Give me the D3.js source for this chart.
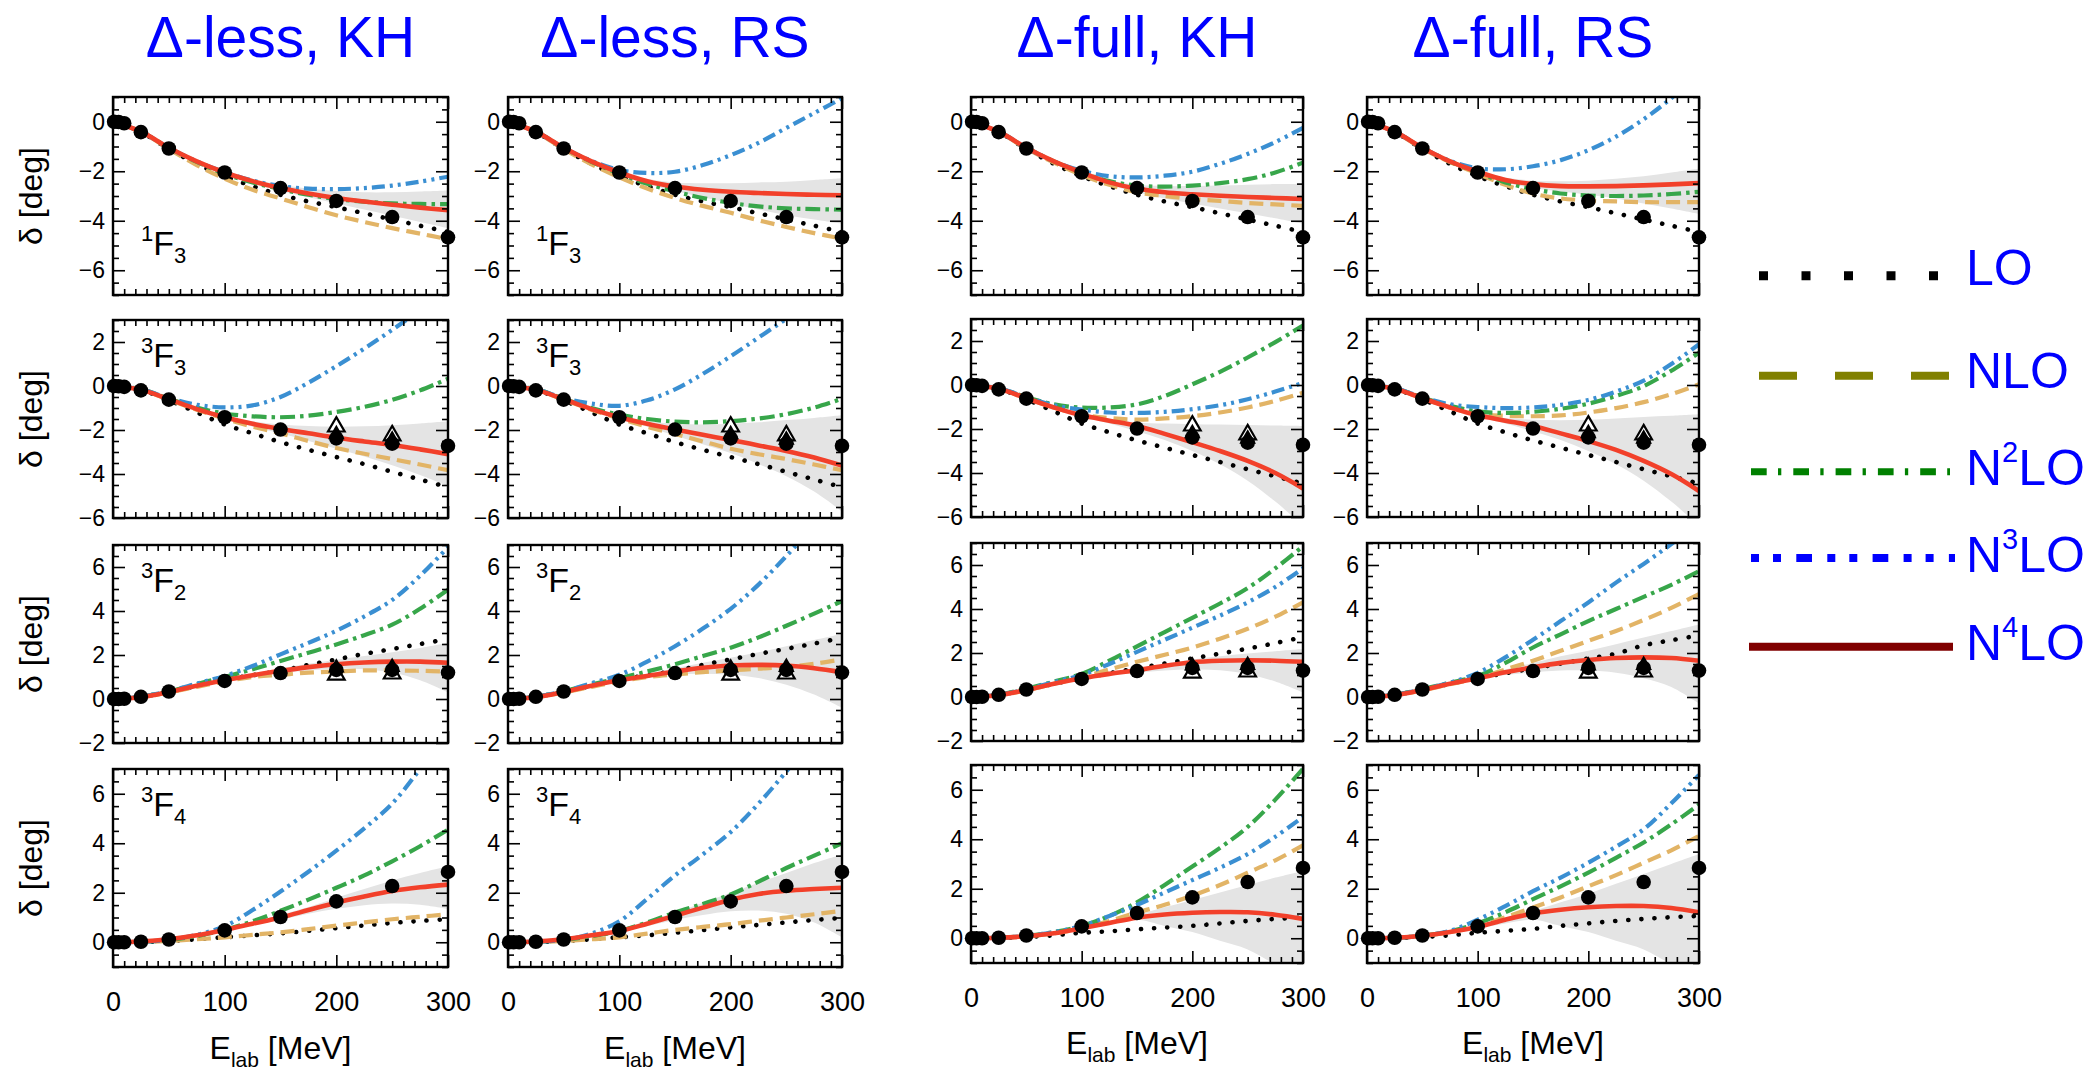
<!DOCTYPE html>
<html><head><meta charset="utf-8">
<script src="https://cdn.jsdelivr.net/npm/d3@7"></script>
<style>
body{margin:0;background:#fff}
text{font-family:"Liberation Sans",Arial,Helvetica,sans-serif}
</style>
</head><body>
<svg id="c" width="2094" height="1074"></svg>
<script>
// ---------------- DATA ----------------
const energies = [0,25,50,75,100,125,150,175,200,225,250,275,300];
const titles = ["Δ-less, KH","Δ-less, RS","Δ-full, KH","Δ-full, RS"];
const waveSup = ["1","3","3","3"];
const waveSub = ["3","3","2","4"];
const yDomains = [[-7,1],[-6,3],[-2,7],[-1,7]];
const yTickVals = [[0,-2,-4,-6],[2,0,-2,-4,-6],[6,4,2,0,-2],[6,4,2,0]];
const xTickVals = [0,100,200,300];
const orders = ["LO","NLO","N2LO","N3LO","N4LO"];
const orderSup = ["","","2","3","4"];

// PWA points
const pwaE = [1,5,10,25,50,100,150,200,250,300];
const pwa_1F3 = [0,-0.01,-0.06,-0.42,-1.08,-2.05,-2.68,-3.2,-3.85,-4.67];
const pwa_3F3 = [0,-0.01,-0.04,-0.2,-0.62,-1.42,-1.98,-2.38,-2.62,-2.72];
const pwa_3F2 = [0,0,0.01,0.1,0.34,0.82,1.18,1.32,1.32,1.2];
const pwa_3F4 = [0,0,0,0.02,0.11,0.48,1.02,1.65,2.27,2.84];
const triE = [200,250];
const openTri_3F3 = [-1.85,-2.25];
const filledTri_3F3 = [-2.2,-2.45];
const openTri_3F2 = [1.1,1.15];
const filledTri_3F2 = [1.42,1.45];

// 1F3 (columns: Δ-less KH, Δ-less RS, Δ-full KH, Δ-full RS)
const LO_1F3 = [
 [0,-0.42,-1.1,-1.7,-2.2,-2.6,-2.95,-3.22,-3.45,-3.7,-3.95,-4.2,-4.45],
 [0,-0.42,-1.1,-1.7,-2.2,-2.6,-2.95,-3.22,-3.45,-3.7,-3.95,-4.2,-4.45],
 [0,-0.42,-1.1,-1.7,-2.2,-2.6,-2.95,-3.22,-3.45,-3.7,-3.95,-4.2,-4.45],
 [0,-0.42,-1.1,-1.7,-2.2,-2.6,-2.95,-3.22,-3.45,-3.7,-3.95,-4.2,-4.45]];
const NLO_1F3 = [
 [0,-0.42,-1.1,-1.75,-2.3,-2.75,-3.1,-3.45,-3.78,-4.05,-4.3,-4.52,-4.75],
 [0,-0.42,-1.1,-1.72,-2.25,-2.7,-3.08,-3.4,-3.68,-3.98,-4.25,-4.5,-4.72],
 [0,-0.42,-1.08,-1.65,-2.15,-2.55,-2.85,-3.0,-3.12,-3.2,-3.28,-3.34,-3.4],
 [0,-0.42,-1.08,-1.63,-2.1,-2.55,-2.9,-3.1,-3.18,-3.22,-3.25,-3.25,-3.25]];
const N2LO_1F3 = [
 [0,-0.4,-1.05,-1.62,-2.1,-2.45,-2.72,-2.95,-3.12,-3.23,-3.3,-3.32,-3.33],
 [0,-0.4,-1.05,-1.62,-2.1,-2.5,-2.82,-3.08,-3.28,-3.42,-3.5,-3.53,-3.55],
 [0,-0.4,-1.05,-1.6,-2.05,-2.4,-2.58,-2.62,-2.58,-2.48,-2.32,-2.05,-1.65],
 [0,-0.4,-1.05,-1.6,-2.05,-2.45,-2.72,-2.9,-2.98,-3.0,-2.98,-2.92,-2.83]];
const N3LO_1F3 = [
 [0,-0.4,-1.05,-1.6,-2.03,-2.38,-2.6,-2.7,-2.72,-2.68,-2.58,-2.42,-2.22],
 [0,-0.4,-1.05,-1.58,-1.95,-2.07,-2.02,-1.75,-1.35,-0.85,-0.25,0.35,0.95],
 [0,-0.4,-1.05,-1.6,-1.98,-2.2,-2.25,-2.18,-2.02,-1.7,-1.3,-0.82,-0.25],
 [0,-0.4,-1.05,-1.58,-1.88,-1.92,-1.8,-1.55,-1.15,-0.6,0.1,0.95,1.9]];
const N4LO_1F3 = [
 [0,-0.4,-1.05,-1.6,-2.05,-2.4,-2.68,-2.9,-3.08,-3.22,-3.35,-3.47,-3.57],
 [0,-0.4,-1.05,-1.6,-2.05,-2.4,-2.62,-2.75,-2.83,-2.88,-2.92,-2.95,-2.97],
 [0,-0.4,-1.05,-1.6,-2.05,-2.45,-2.7,-2.85,-2.93,-2.99,-3.04,-3.08,-3.12],
 [0,-0.4,-1.05,-1.6,-2.02,-2.35,-2.52,-2.6,-2.61,-2.6,-2.57,-2.53,-2.48]];
const bandHi_1F3 = [
 [0,-0.4,-1.04,-1.58,-2.0,-2.3,-2.55,-2.7,-2.8,-2.85,-2.85,-2.82,-2.78],
 [0,-0.4,-1.04,-1.58,-2.0,-2.3,-2.45,-2.48,-2.48,-2.45,-2.42,-2.35,-2.28],
 [0,-0.4,-1.04,-1.58,-2.0,-2.35,-2.55,-2.6,-2.6,-2.58,-2.55,-2.52,-2.5],
 [0,-0.4,-1.04,-1.57,-1.98,-2.25,-2.38,-2.4,-2.38,-2.3,-2.2,-2.05,-1.9]];
const bandLo_1F3 = [
 [0,-0.4,-1.06,-1.62,-2.1,-2.5,-2.8,-3.05,-3.3,-3.55,-3.8,-4.05,-4.3],
 [0,-0.4,-1.06,-1.62,-2.1,-2.5,-2.8,-3.05,-3.3,-3.55,-3.78,-3.95,-4.12],
 [0,-0.4,-1.06,-1.62,-2.1,-2.55,-2.85,-3.1,-3.3,-3.5,-3.7,-3.9,-4.12],
 [0,-0.4,-1.06,-1.62,-2.08,-2.45,-2.68,-2.82,-2.95,-3.1,-3.3,-3.5,-3.72]];

// 3F3
const LO_3F3 = [
 [0,-0.18,-0.65,-1.2,-1.75,-2.15,-2.55,-2.9,-3.23,-3.55,-3.9,-4.25,-4.6],
 [0,-0.18,-0.65,-1.2,-1.75,-2.15,-2.55,-2.9,-3.23,-3.55,-3.9,-4.25,-4.6],
 [0,-0.18,-0.65,-1.2,-1.75,-2.15,-2.52,-2.85,-3.18,-3.5,-3.83,-4.15,-4.48],
 [0,-0.18,-0.65,-1.2,-1.75,-2.15,-2.52,-2.85,-3.18,-3.5,-3.83,-4.15,-4.48]];
const NLO_3F3 = [
 [0,-0.17,-0.62,-1.08,-1.48,-1.85,-2.15,-2.5,-2.82,-3.08,-3.32,-3.57,-3.83],
 [0,-0.17,-0.62,-1.08,-1.48,-1.85,-2.18,-2.52,-2.85,-3.1,-3.32,-3.57,-3.83],
 [0,-0.17,-0.6,-1.02,-1.35,-1.5,-1.57,-1.52,-1.42,-1.25,-1.02,-0.72,-0.35],
 [0,-0.17,-0.6,-1.02,-1.32,-1.4,-1.42,-1.38,-1.25,-1.05,-0.78,-0.42,0.03]];
const N2LO_3F3 = [
 [0,-0.15,-0.58,-0.98,-1.25,-1.38,-1.42,-1.35,-1.18,-0.95,-0.63,-0.2,0.33],
 [0,-0.15,-0.58,-1.0,-1.3,-1.5,-1.62,-1.65,-1.6,-1.48,-1.28,-0.98,-0.58],
 [0,-0.15,-0.55,-0.88,-1.03,-1.02,-0.88,-0.5,0.03,0.6,1.25,1.95,2.7],
 [0,-0.15,-0.57,-0.95,-1.2,-1.27,-1.22,-1.08,-0.85,-0.5,-0.05,0.65,1.47]];
const N3LO_3F3 = [
 [0,-0.15,-0.55,-0.85,-0.97,-0.88,-0.5,0.15,0.9,1.7,2.55,3.45,4.4],
 [0,-0.15,-0.55,-0.8,-0.9,-0.65,-0.15,0.55,1.35,2.2,3.05,3.9,4.8],
 [0,-0.15,-0.55,-0.92,-1.12,-1.25,-1.27,-1.22,-1.1,-0.92,-0.65,-0.3,0.1],
 [0,-0.15,-0.55,-0.88,-1.0,-1.05,-1.02,-0.9,-0.68,-0.3,0.2,0.95,1.85]];
const N4LO_3F3 = [
 [0,-0.17,-0.6,-1.05,-1.42,-1.72,-1.95,-2.15,-2.35,-2.52,-2.68,-2.88,-3.1],
 [0,-0.17,-0.6,-1.05,-1.42,-1.72,-1.98,-2.22,-2.45,-2.7,-2.95,-3.25,-3.62],
 [0,-0.17,-0.6,-1.02,-1.38,-1.62,-1.86,-2.22,-2.6,-3.0,-3.45,-4.0,-4.7],
 [0,-0.17,-0.6,-1.02,-1.38,-1.62,-1.86,-2.2,-2.55,-2.95,-3.45,-4.05,-4.82]];
const bandHi_3F3 = [
 [0,-0.16,-0.58,-1.0,-1.36,-1.6,-1.75,-1.82,-1.85,-1.83,-1.78,-1.7,-1.6],
 [0,-0.16,-0.58,-1.0,-1.36,-1.6,-1.72,-1.75,-1.72,-1.65,-1.55,-1.45,-1.33],
 [0,-0.16,-0.58,-1.0,-1.33,-1.55,-1.7,-1.75,-1.78,-1.8,-1.82,-1.84,-1.86],
 [0,-0.16,-0.58,-1.0,-1.33,-1.5,-1.58,-1.6,-1.58,-1.52,-1.45,-1.4,-1.33]];
const bandLo_3F3 = [
 [0,-0.18,-0.62,-1.08,-1.46,-1.85,-2.15,-2.5,-2.85,-3.2,-3.6,-4.05,-4.55],
 [0,-0.18,-0.62,-1.08,-1.46,-1.85,-2.25,-2.65,-3.05,-3.55,-4.1,-4.8,-5.7],
 [0,-0.18,-0.62,-1.05,-1.42,-1.75,-2.1,-2.5,-3.0,-3.6,-4.35,-5.3,-6.4],
 [0,-0.18,-0.62,-1.05,-1.42,-1.75,-2.1,-2.5,-3.0,-3.6,-4.35,-5.3,-6.4]];

// 3F2
const LO_3F2 = [
 [0,0.1,0.33,0.6,0.88,1.08,1.28,1.55,1.8,2.05,2.27,2.5,2.72],
 [0,0.1,0.33,0.6,0.88,1.08,1.28,1.55,1.8,2.05,2.28,2.52,2.78],
 [0,0.1,0.33,0.6,0.85,1.08,1.3,1.52,1.75,1.97,2.2,2.45,2.72],
 [0,0.1,0.33,0.6,0.85,1.08,1.3,1.52,1.75,1.97,2.35,2.58,2.8]];
const NLO_3F2 = [
 [0,0.08,0.3,0.55,0.8,1.0,1.1,1.2,1.25,1.3,1.3,1.28,1.25],
 [0,0.08,0.3,0.55,0.8,1.0,1.12,1.22,1.3,1.38,1.45,1.6,1.8],
 [0,0.08,0.3,0.6,0.9,1.25,1.6,1.92,2.25,2.65,3.1,3.65,4.3],
 [0,0.08,0.3,0.58,0.85,1.25,1.65,2.1,2.55,3.0,3.5,4.05,4.68]];
const N2LO_3F2 = [
 [0,0.1,0.35,0.68,1.0,1.35,1.73,2.1,2.48,2.9,3.38,4.1,4.97],
 [0,0.1,0.35,0.66,0.95,1.25,1.58,1.95,2.33,2.8,3.33,3.88,4.45],
 [0,0.1,0.38,0.7,1.05,1.65,2.3,2.95,3.6,4.25,4.95,5.85,6.85],
 [0,0.1,0.36,0.65,0.95,1.55,2.25,2.85,3.45,4.0,4.55,5.1,5.72]];
const N3LO_3F2 = [
 [0,0.1,0.35,0.7,1.05,1.5,2.03,2.55,3.1,3.75,4.5,5.6,6.9],
 [0,0.1,0.35,0.72,1.1,1.7,2.4,3.2,4.1,5.2,6.5,7.9,9.4],
 [0,0.1,0.35,0.68,1.0,1.5,2.05,2.6,3.15,3.7,4.3,5.0,5.85],
 [0,0.1,0.35,0.65,1.1,1.8,2.6,3.45,4.3,5.2,6.05,6.95,7.9]];
const N4LO_3F2 = [
 [0,0.08,0.32,0.6,0.85,1.08,1.28,1.45,1.58,1.66,1.7,1.7,1.65],
 [0,0.08,0.32,0.6,0.85,1.05,1.25,1.42,1.52,1.55,1.52,1.4,1.22],
 [0,0.08,0.32,0.6,0.85,1.05,1.22,1.42,1.58,1.65,1.67,1.65,1.6],
 [0,0.08,0.32,0.6,0.85,1.12,1.35,1.55,1.68,1.77,1.8,1.77,1.65]];
const bandHi_3F2 = [
 [0,0.08,0.33,0.62,0.9,1.15,1.38,1.6,1.78,1.95,2.12,2.32,2.56],
 [0,0.08,0.33,0.62,0.9,1.15,1.4,1.65,1.88,2.12,2.4,2.68,2.95],
 [0,0.08,0.33,0.62,0.9,1.12,1.32,1.52,1.7,1.85,1.98,2.08,2.18],
 [0,0.08,0.33,0.62,0.92,1.25,1.55,1.85,2.1,2.4,2.7,3.0,3.3]];
const bandLo_3F2 = [
 [0,0.08,0.31,0.58,0.8,1.0,1.18,1.3,1.38,1.35,1.2,0.85,0.3],
 [0,0.08,0.31,0.58,0.8,0.98,1.1,1.15,1.1,0.95,0.65,0.2,-0.4],
 [0,0.08,0.31,0.58,0.8,0.98,1.1,1.2,1.25,1.22,1.05,0.7,0.2],
 [0,0.08,0.31,0.58,0.8,1.0,1.12,1.2,1.2,1.1,0.85,0.45,-0.3]];

// 3F4
const LO_3F4 = [
 [0,0.01,0.05,0.12,0.2,0.28,0.36,0.46,0.57,0.68,0.78,0.86,0.93],
 [0,0.01,0.05,0.12,0.2,0.28,0.38,0.49,0.6,0.7,0.8,0.9,0.98],
 [0,0.01,0.05,0.12,0.22,0.28,0.36,0.43,0.5,0.6,0.7,0.78,0.84],
 [0,0.01,0.05,0.12,0.22,0.3,0.38,0.5,0.6,0.7,0.78,0.85,0.9]];
const NLO_3F4 = [
 [0,0.01,0.05,0.12,0.2,0.3,0.4,0.53,0.67,0.8,0.93,1.03,1.13],
 [0,0.01,0.05,0.12,0.2,0.35,0.5,0.62,0.73,0.87,1.0,1.13,1.27],
 [0,0.02,0.08,0.2,0.4,0.7,1.04,1.35,1.72,2.15,2.65,3.15,3.75],
 [0,0.02,0.1,0.25,0.5,0.85,1.24,1.65,2.1,2.55,3.05,3.55,4.13]];
const N2LO_3F4 = [
 [0,0.02,0.1,0.25,0.5,0.85,1.27,1.72,2.2,2.7,3.27,3.88,4.55],
 [0,0.02,0.1,0.25,0.45,0.8,1.2,1.55,1.93,2.45,3.0,3.5,4.0],
 [0,0.02,0.1,0.25,0.5,0.9,1.45,2.15,2.9,3.65,4.5,5.6,6.85],
 [0,0.02,0.1,0.28,0.6,1.05,1.58,2.1,2.65,3.25,3.87,4.6,5.4]];
const N3LO_3F4 = [
 [0,0.02,0.1,0.3,0.65,1.3,2.05,2.85,3.7,4.6,5.6,7.0,8.5],
 [0,0.02,0.1,0.35,0.85,1.75,2.7,3.55,4.45,5.6,6.9,8.3,9.8],
 [0,0.02,0.1,0.25,0.5,0.9,1.35,1.85,2.35,2.85,3.4,4.1,4.9],
 [0,0.02,0.1,0.3,0.75,1.3,1.9,2.45,3.05,3.7,4.4,5.45,6.6]];
const N4LO_3F4 = [
 [0,0.03,0.12,0.28,0.5,0.75,1.0,1.3,1.6,1.85,2.07,2.22,2.33],
 [0,0.03,0.12,0.28,0.45,0.75,1.07,1.4,1.72,1.95,2.08,2.15,2.2],
 [0,0.02,0.08,0.2,0.4,0.62,0.83,0.96,1.03,1.06,1.05,0.95,0.78],
 [0,0.02,0.1,0.25,0.45,0.75,1.0,1.15,1.25,1.3,1.3,1.22,1.05]];
const bandHi_3F4 = [
 [0,0.03,0.13,0.3,0.55,0.82,1.1,1.42,1.8,2.15,2.5,2.8,3.07],
 [0,0.03,0.13,0.3,0.55,0.85,1.2,1.6,2.0,2.4,2.8,3.2,3.55],
 [0,0.02,0.09,0.22,0.45,0.7,0.95,1.25,1.55,1.85,2.15,2.45,2.72],
 [0,0.02,0.11,0.27,0.5,0.8,1.1,1.45,1.8,2.2,2.6,3.0,3.4]];
const bandLo_3F4 = [
 [0,0.03,0.11,0.26,0.45,0.68,0.9,1.15,1.35,1.5,1.57,1.52,1.35],
 [0,0.03,0.11,0.26,0.4,0.65,0.9,1.1,1.25,1.28,1.15,0.8,0.2],
 [0,0.02,0.07,0.18,0.35,0.55,0.75,0.5,0.25,-0.1,-0.45,-1.05,-1.6],
 [0,0.02,0.09,0.23,0.4,0.6,0.75,0.5,0.25,-0.1,-0.45,-1.05,-1.6]];

// ---------------- BUILD ----------------
const curves = {
  LO:   [LO_1F3, LO_3F3, LO_3F2, LO_3F4],
  NLO:  [NLO_1F3, NLO_3F3, NLO_3F2, NLO_3F4],
  N2LO: [N2LO_1F3, N2LO_3F3, N2LO_3F2, N2LO_3F4],
  N3LO: [N3LO_1F3, N3LO_3F3, N3LO_3F2, N3LO_3F4],
  N4LO: [N4LO_1F3, N4LO_3F3, N4LO_3F2, N4LO_3F4]
};
const bandHi = [bandHi_1F3, bandHi_3F3, bandHi_3F2, bandHi_3F4];
const bandLo = [bandLo_1F3, bandLo_3F3, bandLo_3F2, bandLo_3F4];
const pwa = [pwa_1F3, pwa_3F3, pwa_3F2, pwa_3F4];
const openTri = [null, openTri_3F3, openTri_3F2, null];
const filledTri = [null, filledTri_3F3, filledTri_3F2, null];

const panelStyle = {
  LO:   {color:"#000000", width:4.6, dash:"0.1,13", cap:"round"},
  NLO:  {color:"#e2b466", width:4.2, dash:"14,7", cap:"butt"},
  N2LO: {color:"#37a64a", width:4.2, dash:"15,5,3.5,5", cap:"butt"},
  N3LO: {color:"#3a8fd2", width:4.2, dash:"13,5,3,5,3,5", cap:"butt"},
  N4LO: {color:"#f2402a", width:4.6, dash:null, cap:"butt"}
};
const FONT = '"Liberation Sans",Arial,Helvetica,sans-serif';

const svg = d3.select("#c");
const colL = [113,508,971,1367], colR = [448,842,1303,1699];
const rowTop = [[97,320,545,769],[97,319,543,765]];
const panelH = 198;

// titles
titles.forEach((t,c)=>{
  svg.append("text").attr("x",(colL[c]+colR[c])/2).attr("y",57)
    .attr("text-anchor","middle").attr("font-size",57).attr("fill","#0000ff").text(t);
});

for (let r=0;r<4;r++){
  for (let c=0;c<4;c++){
    const grp = c<2?0:1;
    const left = colL[c], top = rowTop[grp][r], w = colR[c]-colL[c], h = panelH;
    const g = svg.append("g").attr("transform",`translate(${left},${top})`);
    const x = d3.scaleLinear().domain([0,300]).range([0,w]);
    const y = d3.scaleLinear().domain(yDomains[r]).range([h,0]);
    const cid = `clip-${r}-${c}`;
    g.append("clipPath").attr("id",cid).append("rect").attr("width",w).attr("height",h);
    const plot = g.append("g").attr("clip-path",`url(#${cid})`);

    // band
    const area = d3.area().x((d,i)=>x(energies[i])).y0((d,i)=>y(bandLo[r][c][i])).y1((d,i)=>y(bandHi[r][c][i])).curve(d3.curveCatmullRom.alpha(0.5));
    plot.append("path").attr("d",area(energies)).attr("fill","#e4e4e4");

    const line = d3.line().x((d,i)=>x(energies[i])).y(d=>y(d)).curve(d3.curveCatmullRom.alpha(0.5));
    orders.forEach(o=>{
      const s = panelStyle[o];
      const p = plot.append("path").attr("d",line(curves[o][r][c])).attr("fill","none")
        .attr("stroke",s.color).attr("stroke-width",s.width).attr("stroke-linecap",s.cap);
      if (s.dash) p.attr("stroke-dasharray",s.dash);
    });

    // axes
    const minorX = d3.range(0,301,10).filter(v=>v%100!==0);
    const yd = yDomains[r];
    const minorY = d3.range(Math.ceil(yd[0]*2)/2, yd[1]+0.001, 0.5).filter(v=>Math.abs(v%2)>1e-6);
    const styleAx = sel => {
      sel.select(".domain").remove();
      sel.attr("font-family",FONT);
      sel.selectAll("line").attr("stroke","#000").attr("stroke-width",1.6);
      sel.selectAll("text").attr("fill","#000");
    };
    g.append("g").attr("transform",`translate(0,${h})`)
      .call(d3.axisBottom(x).tickValues(xTickVals).tickSize(-12).tickPadding(25)
        .tickFormat(r===3? d3.format("d") : ()=>""))
      .attr("font-size",27).call(styleAx);
    g.append("g").attr("transform",`translate(0,${h})`)
      .call(d3.axisBottom(x).tickValues(minorX).tickSize(-6).tickFormat(()=>"")).call(styleAx);
    g.append("g").call(d3.axisTop(x).tickValues(xTickVals).tickSize(-12).tickFormat(()=>"")).call(styleAx);
    g.append("g").call(d3.axisTop(x).tickValues(minorX).tickSize(-6).tickFormat(()=>"")).call(styleAx);
    g.append("g").call(d3.axisLeft(y).tickValues(yTickVals[r]).tickSize(-12).tickPadding(8).tickFormat(d3.format("d")))
      .attr("font-size",23).call(styleAx);
    g.append("g").call(d3.axisLeft(y).tickValues(minorY).tickSize(-6).tickFormat(()=>"")).call(styleAx);
    g.append("g").attr("transform",`translate(${w},0)`)
      .call(d3.axisRight(y).tickValues(yTickVals[r]).tickSize(-12).tickFormat(()=>"")).call(styleAx);
    g.append("g").attr("transform",`translate(${w},0)`)
      .call(d3.axisRight(y).tickValues(minorY).tickSize(-6).tickFormat(()=>"")).call(styleAx);

    g.append("rect").attr("width",w).attr("height",h).attr("fill","none")
      .attr("stroke","#000").attr("stroke-width",2.4);

    // data points
    if (openTri[r]) {
      g.selectAll(null).data(triE).enter().append("path")
        .attr("d",d3.symbol(d3.symbolTriangle,120)())
        .attr("transform",(d,i)=>`translate(${x(d)},${y(openTri[r][i])})`)
        .attr("fill","#fff").attr("stroke","#000").attr("stroke-width",2.2);
    }
    g.selectAll(null).data(pwaE).enter().append("circle")
      .attr("cx",d=>x(d)).attr("cy",(d,i)=>y(pwa[r][i])).attr("r",7.3).attr("fill","#000");
    if (filledTri[r]) {
      g.selectAll(null).data(triE).enter().append("path")
        .attr("d",d3.symbol(d3.symbolTriangle,120)())
        .attr("transform",(d,i)=>`translate(${x(d)},${y(filledTri[r][i])})`)
        .attr("fill","#000");
    }

    // wave labels (left two columns)
    if (c<2){
      const by = r===0 ? 158 : 47;
      const t = g.append("text").attr("x",28).attr("y",by).attr("fill","#000");
      t.append("tspan").attr("font-size",22).attr("dy",-14).text(waveSup[r]);
      t.append("tspan").attr("font-size",34).attr("dy",14).text("F");
      t.append("tspan").attr("font-size",22).attr("dy",8).text(waveSub[r]);
    }

    // y label
    if (c===0){
      svg.append("text").attr("transform",`translate(42,${top+h/2}) rotate(-90)`)
        .attr("text-anchor","middle").attr("font-size",32).attr("fill","#000").text("δ [deg]");
    }
    // x label
    if (r===3){
      const t = svg.append("text").attr("x",left+w/2).attr("y",grp===0?1059:1054)
        .attr("text-anchor","middle").attr("font-size",32).attr("fill","#000");
      t.append("tspan").text("E");
      t.append("tspan").attr("font-size",21).attr("dy",8).text("lab");
      t.append("tspan").attr("dy",-8).text(" [MeV]");
    }
  }
}

// ---------------- LEGEND ----------------
const legendStyle = {
  LO:   {color:"#000000", width:9, dash:"9,33.5", x1:1759, x2:1942, y:275.7, ty:285},
  NLO:  {color:"#808000", width:8, dash:"38,38", x1:1759, x2:1951, y:375.7, ty:388},
  N2LO: {color:"#008000", width:7, dash:"15.7,11.3,3.3,12", x1:1751, x2:1950, y:471.7, ty:485},
  N3LO: {color:"#0000ff", width:8, dash:"8,14,8,15.3,15.7,15.3", x1:1751, x2:1955, y:558, ty:572},
  N4LO: {color:"#800000", width:8, dash:null, x1:1749, x2:1953, y:646.7, ty:660}
};
orders.forEach((o,i)=>{
  const s = legendStyle[o];
  const ln = svg.append("line").attr("x1",s.x1).attr("x2",s.x2).attr("y1",s.y).attr("y2",s.y)
    .attr("stroke",s.color).attr("stroke-width",s.width);
  if (s.dash) ln.attr("stroke-dasharray",s.dash);
  const t = svg.append("text").attr("x",1966).attr("y",s.ty).attr("font-size",50).attr("fill","#0000ff");
  if (orderSup[i]){
    t.append("tspan").text("N");
    t.append("tspan").attr("font-size",29).attr("dy",-23).text(orderSup[i]);
    t.append("tspan").attr("dy",23).text("LO");
  } else {
    t.text(o);
  }
});
</script>
</body></html>
